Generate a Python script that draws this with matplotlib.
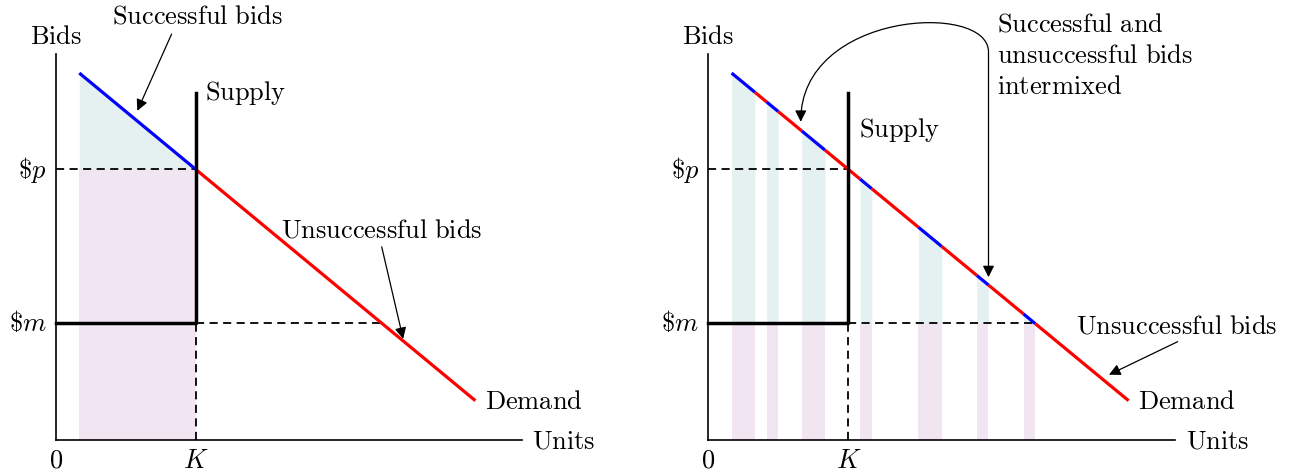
import matplotlib.pyplot as plt
from matplotlib.path import Path
from matplotlib.patches import FancyArrowPatch
import numpy as np

plt.rcParams['mathtext.fontset'] = 'cm'

# values (data units: K = 3)
demand_x = [0.5, 9.0]
demand_y = [9.33, 1.0]
K = 3.0
p = 6.89
m = 2.97
m_cross = 7.0
supply_top = 8.82
axis_top = 9.81
axis_right = 10.0

# winning bid intervals
won_left = [(0.5, 3.0)]
won_right = [(0.5, 1.0), (1.25, 1.5), (2.0, 2.5), (3.25, 3.5),
             (4.5, 5.0), (5.75, 6.0), (6.75, 7.0)]

teal = '#e5f1f1'
purple = '#f1e5f2'
FS = 19


def T(s):
    return r'$\mathrm{' + s.replace(' ', r'\ ') + '}$'


def demand(x):
    return np.interp(x, demand_x, demand_y)


def draw_panel(ax, won, floor):
    for a, b in won:
        xs = np.array([a, b])
        ax.fill_between(xs, floor, demand(xs), color=teal, lw=0, zorder=1)
        ax.fill_between(xs, 0, floor, color=purple, lw=0, zorder=1)

    # demand curve, blue where bids win, red elsewhere
    cur = demand_x[0]
    for a, b in won:
        if a > cur:
            xs = np.array([cur, a])
            ax.plot(xs, demand(xs), color='red', lw=2.3, solid_capstyle='butt', zorder=4)
        xs = np.array([a, b])
        ax.plot(xs, demand(xs), color='blue', lw=2.3, solid_capstyle='butt', zorder=4)
        cur = b
    xs = np.array([cur, demand_x[1]])
    ax.plot(xs, demand(xs), color='red', lw=2.3, solid_capstyle='butt', zorder=4)

    # axes
    ax.plot([0, 0], [0, axis_top], color='black', lw=1.2, zorder=3)
    ax.plot([0, axis_right], [0, 0], color='black', lw=1.2, zorder=3)

    # dashed guides
    ax.plot([0, K], [p, p], color='black', lw=1.3, dashes=(4.5, 3), zorder=3)
    ax.plot([K, m_cross], [m, m], color='black', lw=1.3, dashes=(4.5, 3), zorder=3)
    ax.plot([K, K], [0, m], color='black', lw=1.3, dashes=(4.5, 3), zorder=3)

    # supply
    ax.plot([0, K, K], [m, m, supply_top], color='black', lw=2.5, zorder=5)

    ax.text(0, 10.27, T('Bids'), fontsize=FS, ha='center', va='center')
    ax.text(-0.2, p, r'$\$p$', fontsize=FS, ha='right', va='center')
    ax.text(-0.2, m, r'$\$m$', fontsize=FS, ha='right', va='center')
    ax.text(0, -0.5, r'$0$', fontsize=FS, ha='center', va='center')
    ax.text(K, -0.5, r'$K$', fontsize=FS, ha='center', va='center')
    ax.text(axis_right + 0.22, 0, T('Units'), fontsize=FS, ha='left', va='center')
    ax.text(demand_x[1] + 0.2, demand_y[1], T('Demand'), fontsize=FS, ha='left', va='center')


def arrow(ax, start, end):
    ax.annotate('', xy=end, xytext=start,
                arrowprops=dict(arrowstyle='-|>', color='black', lw=0.9,
                                mutation_scale=17, shrinkA=0, shrinkB=0))


fig = plt.figure(figsize=(12.9, 4.77), dpi=100)

# left panel: origin at pixel (56, 441), 46.6 px per unit across, 39.33 up
ax1 = fig.add_axes([0, 0, 0.5, 1])
ax1.set_xlim(-1.202, 12.64)
ax1.set_ylim(-0.915, 11.213)
ax1.axis('off')
draw_panel(ax1, won_left, p)
ax1.text(K + 0.2, 8.85, T('Supply'), fontsize=FS, ha='left', va='center')
ax1.text(3.03, 10.79, T('Successful bids'), fontsize=FS, ha='center', va='center')
arrow(ax1, (2.48, 10.32), (1.745, 8.37))
ax1.text(6.99, 5.36, T('Unsuccessful bids'), fontsize=FS, ha='center', va='center')
arrow(ax1, (6.99, 4.91), (7.45, 2.57))

# right panel: origin at pixel (708.3, 441)
ax2 = fig.add_axes([0.5, 0, 0.5, 1])
ax2.set_xlim(-1.355, 12.456)
ax2.set_ylim(-0.915, 11.213)
ax2.axis('off')
draw_panel(ax2, won_right, m)
ax2.text(K + 0.22, 7.91, T('Supply'), fontsize=FS, ha='left', va='center')
ax2.text(6.18, 10.6, T('Successful and'), fontsize=FS, ha='left', va='center')
ax2.text(6.18, 9.8, T('unsuccessful bids'), fontsize=FS, ha='left', va='center')
ax2.text(6.18, 8.99, T('intermixed'), fontsize=FS, ha='left', va='center')
ax2.text(7.87, 2.9, T('Unsuccessful bids'), fontsize=FS, ha='left', va='center')
arrow(ax2, (10.05, 2.5), (8.58, 1.66))

curve = Path([(6.0, 4.14), (6.0, 9.87), (6.0, 11.15), (1.98, 10.9), (1.98, 8.09)],
             [Path.MOVETO, Path.LINETO, Path.CURVE4, Path.CURVE4, Path.CURVE4])
ax2.add_patch(FancyArrowPatch(path=curve, arrowstyle='<|-|>', color='black', lw=0.9,
                              mutation_scale=17, shrinkA=0, shrinkB=0))

fig.savefig('out.png', dpi=100)
